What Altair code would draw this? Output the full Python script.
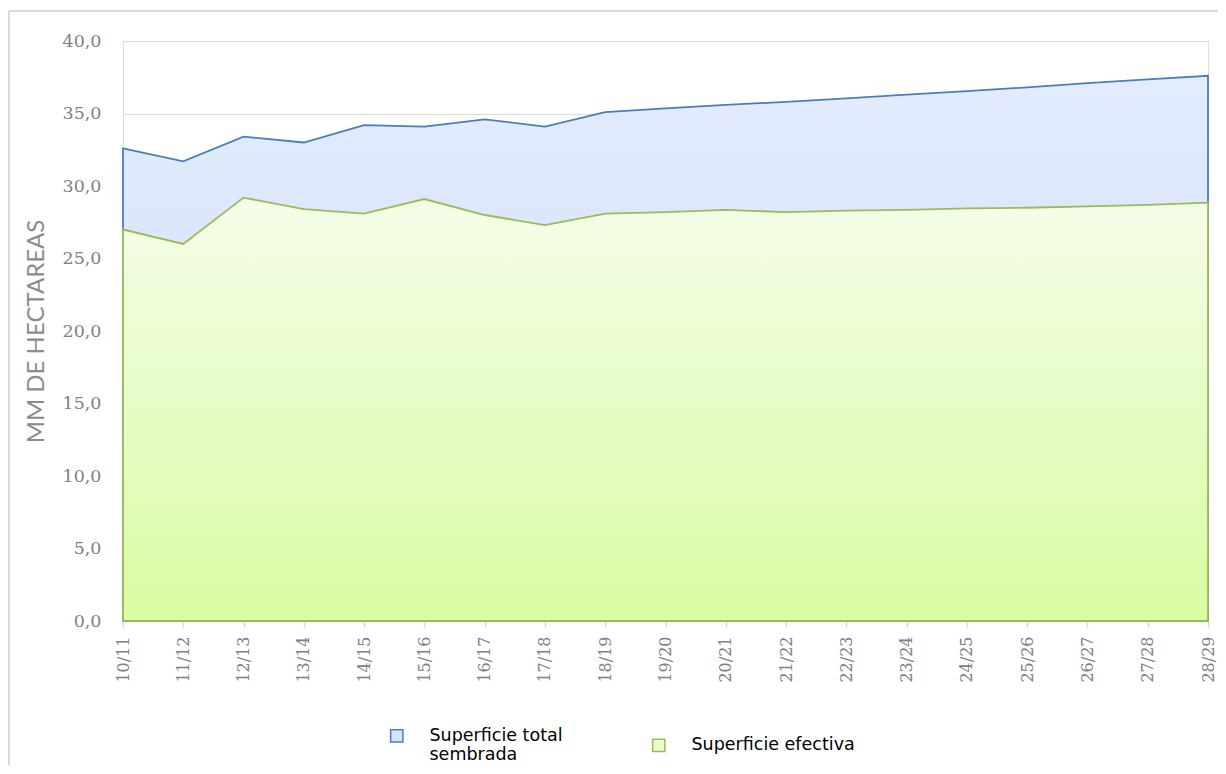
import altair as alt
import pandas as pd

campaigns = ["10/11", "11/12", "12/13", "13/14", "14/15", "15/16", "16/17", "17/18", "18/19",
             "19/20", "20/21", "21/22", "22/23", "23/24", "24/25", "25/26", "26/27", "27/28", "28/29"]
total_sembrada = [32.6, 31.7, 33.4, 33.0, 34.2, 34.1, 34.6, 34.1, 35.1,
                  35.35, 35.6, 35.8, 36.05, 36.3, 36.55, 36.8, 37.1, 37.35, 37.6]
efectiva = [27.0, 26.0, 29.2, 28.4, 28.1, 29.1, 28.0, 27.3, 28.1,
            28.2, 28.35, 28.2, 28.3, 28.35, 28.45, 28.5, 28.6, 28.7, 28.85]

series_names = ["Superficie total sembrada", "Superficie efectiva"]
stroke_colors = ["#4a7ebb", "#9bbb59"]
fill_colors = ["#d6e4fc", "#e9fbcc"]

df = pd.DataFrame({"campaña": campaigns, "total": total_sembrada, "efectiva": efectiva})
df_long = pd.DataFrame({
    "campaña": campaigns * 2,
    "serie": [series_names[0]] * len(campaigns) + [series_names[1]] * len(campaigns),
    "valor": total_sembrada + efectiva,
})

x_enc = alt.X("campaña:N", sort=campaigns,
              scale=alt.Scale(type="point", padding=0),
              axis=alt.Axis(title=None, labelAngle=-90, labelAlign="right", labelBaseline="middle",
                            labelPadding=9, labelFont="DejaVu Serif", labelFontSize=16,
                            labelColor="#808080", domainColor="#d9d9d9", domainWidth=1.5,
                            tickColor="#d9d9d9", tickSize=6, tickWidth=1.5, grid=False))

y_scale = alt.Scale(domain=[0, 40])
y_axis = alt.Axis(title="MM DE HECTAREAS", values=[0, 5, 10, 15, 20, 25, 30, 35, 40],
                  labelExpr="replace(format(datum.value, '.1f'), '.', ',')",
                  labelFont="DejaVu Serif", labelFontSize=17.5, labelColor="#808080",
                  labelPadding=22, domain=False, ticks=False, grid=True,
                  gridColor="#d9d9d9", gridWidth=1.2,
                  titleFont="Lato", titleFontSize=24, titleFontWeight="normal",
                  titleColor="#8c8c8c", titleX=-87, titleY=290, titleBaseline="middle",
                  titleAngle=270)

blue_grad = alt.Gradient(gradient="linear", x1=0, y1=0, x2=0, y2=1,
                         stops=[alt.GradientStop(color="#e3ecfd", offset=0),
                                alt.GradientStop(color="#c9dbfb", offset=1)])
green_grad = alt.Gradient(gradient="linear", x1=0, y1=0, x2=0, y2=1,
                          stops=[alt.GradientStop(color="#f5fde8", offset=0),
                                 alt.GradientStop(color="#d8fca3", offset=1)])

base = alt.Chart(df)

area_total = base.mark_area(fill=blue_grad, stroke=stroke_colors[0], strokeWidth=1.8,
                            strokeJoin="miter").encode(
    x=x_enc,
    y=alt.Y("total:Q", scale=y_scale, axis=y_axis),
)
area_ef = base.mark_area(fill=green_grad, stroke=stroke_colors[1], strokeWidth=1.8,
                         strokeJoin="miter").encode(
    x=alt.X("campaña:N", sort=campaigns),
    y=alt.Y("efectiva:Q"),
)

legend_layer = alt.Chart(df_long).transform_filter("false").mark_square(size=150, strokeWidth=1.5,
                                                                         opacity=1).encode(
    x=alt.X("campaña:N", sort=campaigns),
    y=alt.Y("valor:Q"),
    fill=alt.Fill("serie:N", scale=alt.Scale(domain=series_names, range=fill_colors),
                  legend=alt.Legend(title=None, orient="none", legendX=265, legendY=686,
                                    direction="horizontal", columnPadding=86,
                                    symbolType="square", symbolSize=150, symbolStrokeWidth=1.5,
                                    labelFont="DejaVu Sans", labelFontSize=17.5, labelColor="#000000",
                                    labelOffset=24, labelLimit=300,
                                    labelExpr="datum.label == 'Superficie total sembrada' ? ['Superficie total', 'sembrada'] : datum.label")),
    stroke=alt.Stroke("serie:N", scale=alt.Scale(domain=series_names, range=stroke_colors),
                      legend=None),
)

border = alt.Chart(df).mark_rule(color="#d9d9d9", strokeWidth=2).encode(
    x=alt.value(-114), y=alt.value(-30), y2=alt.value(740)
) + alt.Chart(df).mark_rule(color="#d9d9d9", strokeWidth=2).encode(
    x=alt.value(-114), x2=alt.value(1095), y=alt.value(-30)
)

chart = alt.layer(area_total, area_ef, legend_layer, border).resolve_scale(
    fill="independent", stroke="independent"
).properties(
    width=1085, height=580,
    autosize=alt.AutoSizeParams(type="none"),
    padding={"left": 115, "top": 33, "right": 10, "bottom": 144},
).configure_view(stroke=None).configure(background="white")

chart.save("out.html", embed_options={"renderer": "svg", "actions": False})
